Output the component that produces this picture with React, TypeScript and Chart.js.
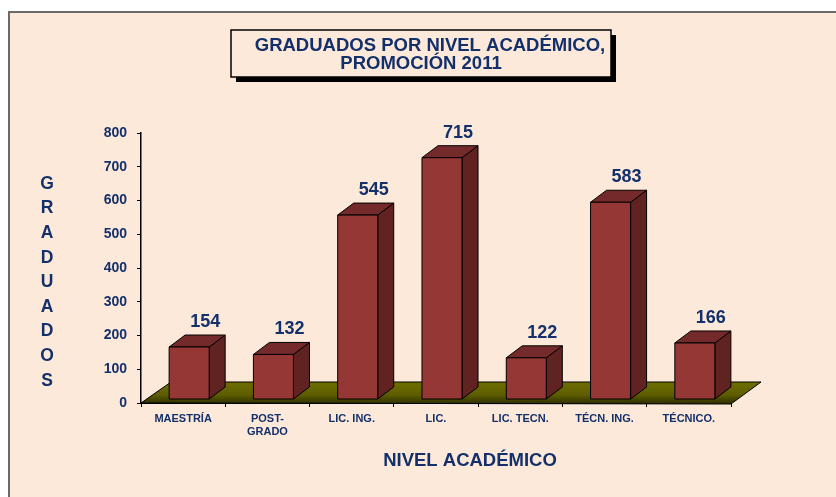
import React, { useEffect, useRef } from "react";
import { Chart, registerables } from "chart.js";

Chart.register(...registerables);

const categories: (string | string[])[] = [
  "MAESTRÍA",
  ["POST-", "GRADO"],
  "LIC. ING.",
  "LIC.",
  "LIC. TECN.",
  "TÉCN. ING.",
  "TÉCNICO.",
];
const graduados = [154, 132, 545, 715, 122, 583, 166];
const yMin = 0;
const yMax = 800;
const yStep = 100;
const chartTitle = ["GRADUADOS POR NIVEL ACADÉMICO,", "PROMOCIÓN 2011"];
const yTitle = "GRADUADOS";
const xTitle = "NIVEL ACADÉMICO";

const FONT = "'Liberation Sans', Arial, sans-serif";
const NAVY = "#13306b";
const BG = "#fde9d9";

const decorPlugin = {
  id: "decor3d",
  beforeDraw(chart: any) {
    const { ctx, width, height } = chart;
    ctx.save();
    ctx.fillStyle = "#ffffff";
    ctx.fillRect(0, 0, width, height);
    ctx.fillStyle = BG;
    ctx.fillRect(8, 11, width - 8, height - 11);
    ctx.strokeStyle = "#6a6a6a";
    ctx.lineWidth = 2;
    ctx.beginPath();
    ctx.moveTo(9, height);
    ctx.lineTo(9, 12);
    ctx.lineTo(width, 12);
    ctx.stroke();

    // title box with shadow
    const bx = 231, by = 30, bw = 380, bh = 47;
    ctx.fillStyle = "#000000";
    ctx.fillRect(bx + 5, by + 5, bw, bh);
    ctx.fillStyle = BG;
    ctx.fillRect(bx, by, bw, bh);
    ctx.strokeStyle = "#000000";
    ctx.lineWidth = 1.5;
    ctx.strokeRect(bx, by, bw, bh);
    ctx.fillStyle = NAVY;
    ctx.font = `bold 18.5px ${FONT}`;
    ctx.textAlign = "center";
    ctx.textBaseline = "middle";
    ctx.fillText(chartTitle[0], 430, 46);
    ctx.fillText(chartTitle[1], 421, 64);

    // y title (stacked letters)
    ctx.font = `bold 17.5px ${FONT}`;
    const letters = yTitle.split("");
    letters.forEach((ch, i) => {
      ctx.fillText(ch, 47, 184 + i * 24.6);
    });

    // x title
    ctx.font = `bold 18.5px ${FONT}`;
    ctx.fillText(xTitle, 470, 461);
    ctx.restore();
  },
  beforeDatasetsDraw(chart: any) {
    const { ctx, chartArea } = chart;
    const { left, right, bottom } = chartArea;
    const dx = 30, dy = -21;
    ctx.save();
    const g = ctx.createLinearGradient(0, bottom + dy, 0, bottom);
    g.addColorStop(0, "#6e6e00");
    g.addColorStop(0.6, "#5e5e00");
    g.addColorStop(1, "#333300");
    ctx.fillStyle = g;
    ctx.beginPath();
    ctx.moveTo(left, bottom);
    ctx.lineTo(left + dx, bottom + dy);
    ctx.lineTo(right + dx, bottom + dy);
    ctx.lineTo(right, bottom + 1);
    ctx.closePath();
    ctx.fill();
    ctx.strokeStyle = "#000000";
    ctx.lineWidth = 1;
    ctx.stroke();
    ctx.restore();
  },
  afterDatasetsDraw(chart: any) {
    const { ctx } = chart;
    const meta = chart.getDatasetMeta(0);
    const yScale = chart.scales.y;
    const data = chart.data.datasets[0].data as number[];
    const ox = 6, oy = -4;
    const ddx = 16, ddy = -12;
    ctx.save();
    ctx.lineWidth = 1;
    ctx.strokeStyle = "#000000";
    ctx.lineJoin = "round";
    meta.data.forEach((bar: any, i: number) => {
      const w = bar.width;
      const xc = bar.x + ox;
      const l = xc - w / 2;
      const r = xc + w / 2;
      const y0 = yScale.getPixelForValue(0) + oy;
      const yv = yScale.getPixelForValue(data[i]) + oy;
      // side
      ctx.fillStyle = "#612222";
      ctx.beginPath();
      ctx.moveTo(r, yv);
      ctx.lineTo(r + ddx, yv + ddy);
      ctx.lineTo(r + ddx, y0 + ddy);
      ctx.lineTo(r, y0);
      ctx.closePath();
      ctx.fill();
      ctx.stroke();
      // top
      ctx.fillStyle = "#742a2a";
      ctx.beginPath();
      ctx.moveTo(l, yv);
      ctx.lineTo(l + ddx, yv + ddy);
      ctx.lineTo(r + ddx, yv + ddy);
      ctx.lineTo(r, yv);
      ctx.closePath();
      ctx.fill();
      ctx.stroke();
      // front
      ctx.fillStyle = "#953735";
      ctx.fillRect(l, yv, w, y0 - yv);
      ctx.strokeRect(l, yv, w, y0 - yv);
      // value label
      ctx.fillStyle = NAVY;
      ctx.font = `bold 18px ${FONT}`;
      ctx.textAlign = "center";
      ctx.textBaseline = "middle";
      ctx.fillText(String(data[i]), xc + ddx, yv + ddy - 13);
    });
    ctx.restore();
  },
};

export default function App() {
  const ref = useRef<HTMLCanvasElement>(null);
  useEffect(() => {
    if (!ref.current) return;
    const chart = new Chart(ref.current, {
      type: "bar",
      data: {
        labels: categories as any,
        datasets: [
          {
            data: graduados,
            backgroundColor: "rgba(0,0,0,0)",
            borderWidth: 0,
            barPercentage: 0.475,
            categoryPercentage: 1,
          },
        ],
      },
      options: {
        responsive: false,
        devicePixelRatio: 1,
        animation: false,
        layout: { padding: { left: 0, right: 105, top: 133, bottom: 0 } },
        plugins: {
          legend: { display: false },
          tooltip: { enabled: false },
          title: { display: false },
        },
        scales: {
          y: {
            min: yMin,
            max: yMax,
            afterFit: (s: any) => {
              s.width = 141;
            },
            ticks: {
              stepSize: yStep,
              color: NAVY,
              font: { family: FONT, size: 14, weight: "bold" },
              padding: 10,
            },
            grid: {
              drawOnChartArea: false,
              tickLength: 4,
              color: "#000000",
            },
            border: { display: true, color: "#000000", width: 1.5 },
          },
          x: {
            afterFit: (s: any) => {
              s.height = 94;
            },
            ticks: {
              color: NAVY,
              font: { family: FONT, size: 11, weight: "bold", lineHeight: 1.2 },
              padding: 5,
              maxRotation: 0,
              autoSkip: false,
            },
            grid: {
              offset: true,
              drawOnChartArea: false,
              tickLength: 4,
              color: "#000000",
            },
            border: { display: true, color: "#000000", width: 1 },
          },
        },
      },
      plugins: [decorPlugin],
    });
    return () => chart.destroy();
  }, []);
  return (
    <div style={{ position: "absolute", left: 0, top: 0, width: 836, height: 497 }}>
      <canvas ref={ref} width={836} height={497} />
    </div>
  );
}
